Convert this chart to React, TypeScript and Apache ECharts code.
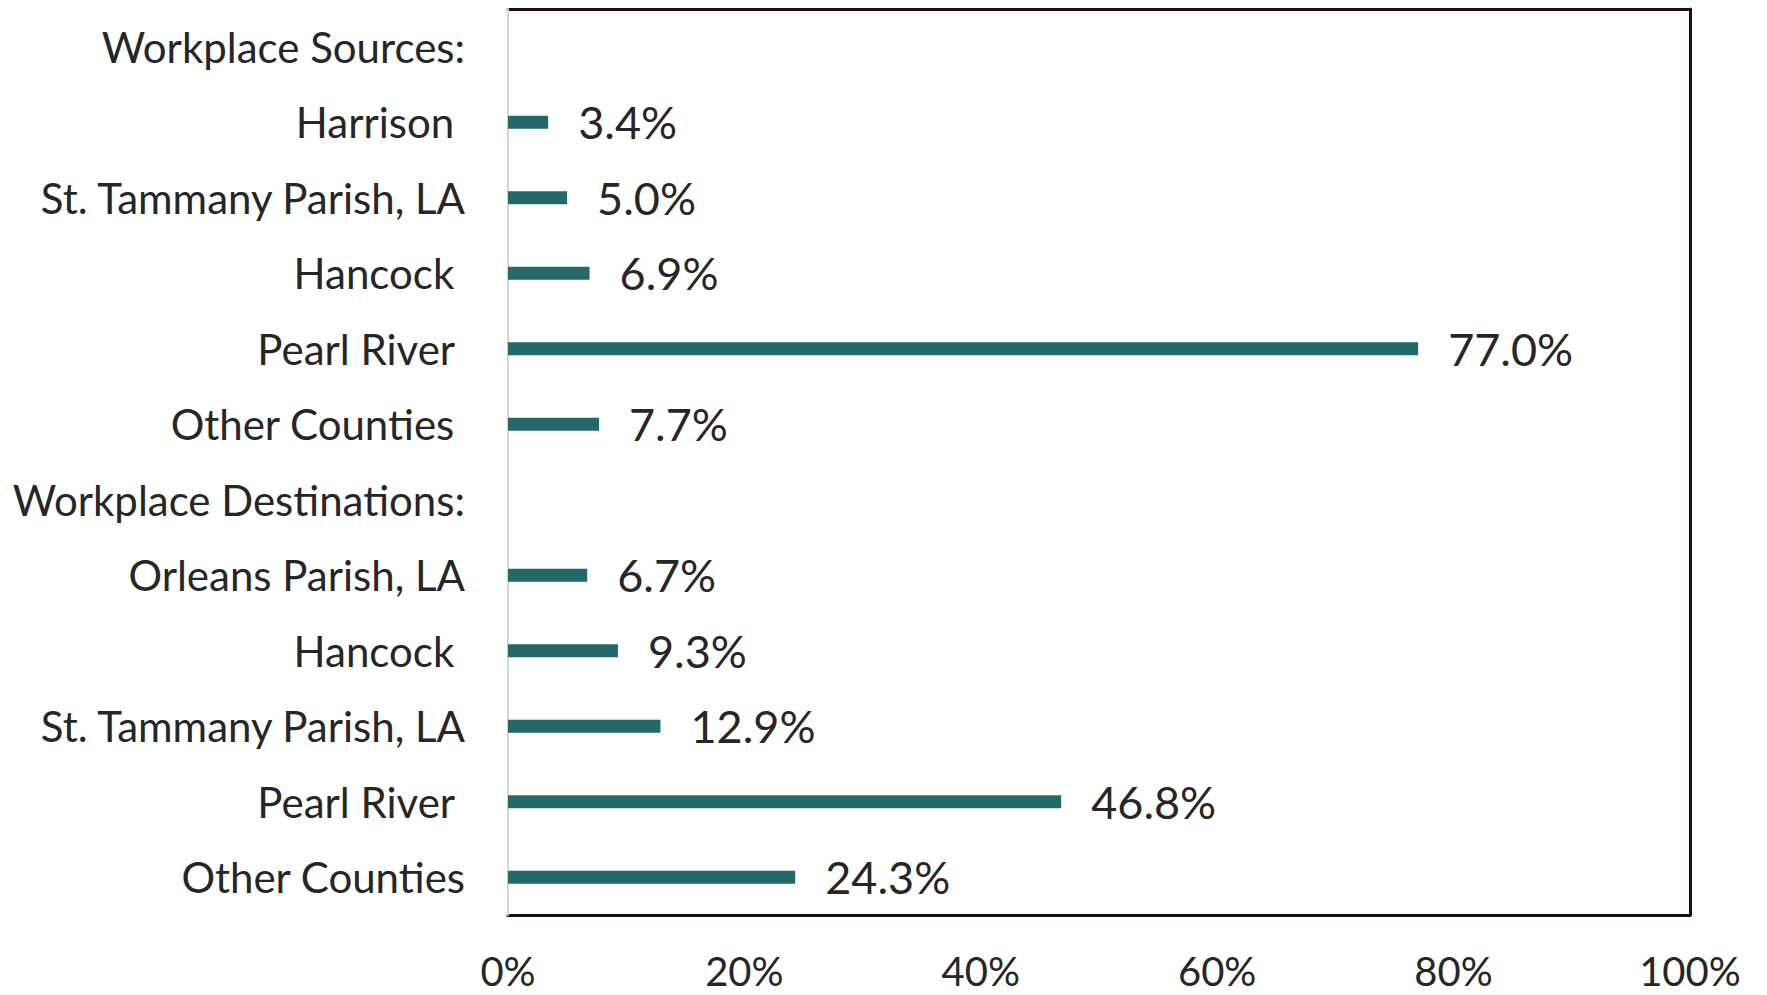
import React, { useEffect, useRef } from "react";
import * as echarts from "echarts";

const categories = [
  "Workplace Sources:",
  "Harrison ",
  "St. Tammany Parish, LA",
  "Hancock ",
  "Pearl River ",
  "Other Counties ",
  "Workplace Destinations:",
  "Orleans Parish, LA",
  "Hancock ",
  "St. Tammany Parish, LA",
  "Pearl River ",
  "Other Counties",
];
const shares: (number | null)[] = [null, 3.4, 5.0, 6.9, 77.0, 7.7, null, 6.7, 9.3, 12.9, 46.8, 24.3];
const xTicks = { min: 0, max: 100, interval: 20 };

const FONT = "Lato";
const TEXT = "#262626";
const FRAME = "#230b0b";

export default function App() {
  const ref = useRef<HTMLDivElement>(null);
  useEffect(() => {
    document.body.style.margin = "0";
    const chart = echarts.init(ref.current!, undefined, { renderer: "svg" });
    chart.setOption({
      animation: false,
      backgroundColor: "#ffffff",
      grid: { left: 508, right: 77, top: 9, bottom: 80, containLabel: false },
      xAxis: [
        {
          type: "value",
          min: xTicks.min,
          max: xTicks.max,
          interval: xTicks.interval,
          position: "bottom",
          axisLine: { show: true, onZero: false, lineStyle: { color: FRAME, width: 3 } },
          axisTick: { show: false },
          splitLine: { show: false },
          axisLabel: {
            formatter: "{value}%",
            margin: 36,
            fontFamily: FONT,
            fontSize: 40,
            lineHeight: 40,
            color: TEXT,
          },
        },
        {
          type: "value",
          min: xTicks.min,
          max: xTicks.max,
          position: "top",
          axisLine: { show: true, onZero: false, lineStyle: { color: FRAME, width: 3 } },
          axisTick: { show: false },
          splitLine: { show: false },
          axisLabel: { show: false },
        },
      ],
      yAxis: [
        {
          type: "category",
          data: categories,
          inverse: true,
          axisLine: { show: true, onZero: false, lineStyle: { color: "#d4d4d4", width: 2 } },
          axisTick: { show: false },
          axisLabel: {
            margin: 43,
            fontFamily: FONT,
            fontSize: 42,
            color: TEXT,
            interval: 0,
          },
          z: 1,
        },
        {
          type: "category",
          data: categories,
          inverse: true,
          position: "right",
          axisLine: { show: true, onZero: false, lineStyle: { color: FRAME, width: 3 } },
          axisTick: { show: false },
          axisLabel: { show: false },
        },
      ],
      series: [
        {
          type: "bar",
          data: shares,
          barWidth: 13,
          itemStyle: { color: "#256869" },
          label: {
            show: true,
            position: "right",
            distance: 30,
            fontFamily: FONT,
            fontSize: 45,
            color: TEXT,
            formatter: (p: any) => (p.value == null ? "" : Number(p.value).toFixed(1) + "%"),
          },
        },
      ],
    });
    return () => chart.dispose();
  }, []);
  return <div ref={ref} style={{ position: "absolute", left: 0, top: 0, width: 1767, height: 995 }} />;
}
